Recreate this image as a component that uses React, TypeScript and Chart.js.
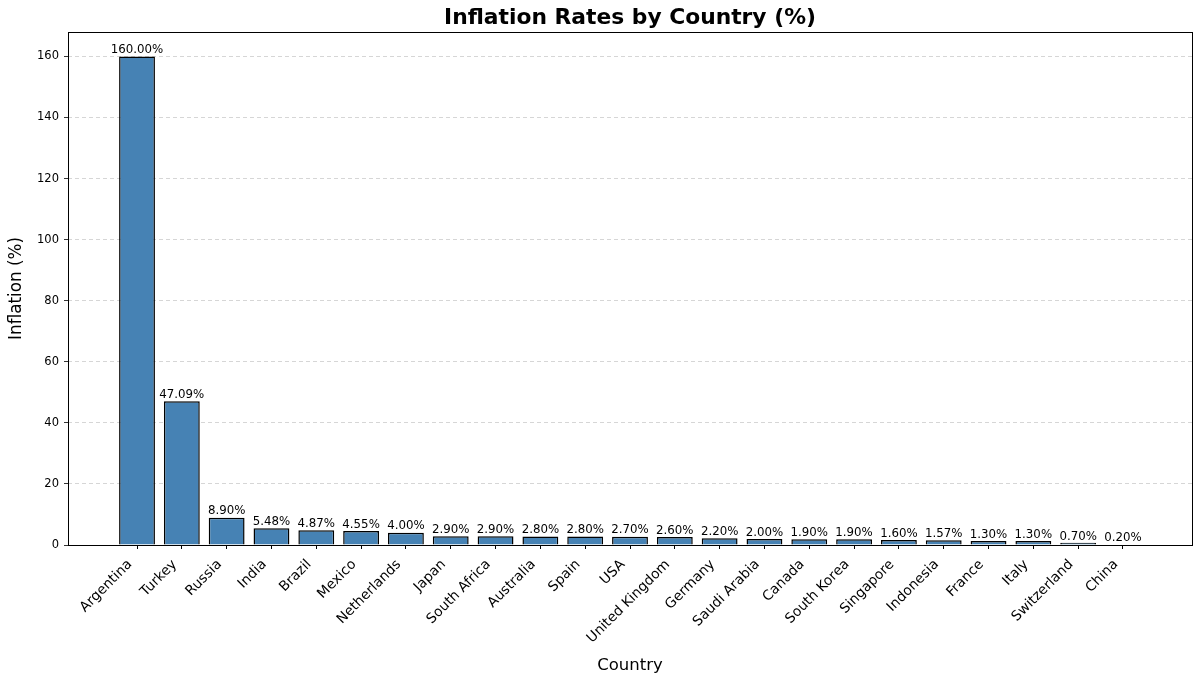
import React, { useEffect, useRef } from "react";
import { Chart, registerables } from "chart.js";

Chart.register(...registerables);

const countries = [
  "Argentina", "Turkey", "Russia", "India", "Brazil", "Mexico", "Netherlands",
  "Japan", "South Africa", "Australia", "Spain", "USA", "United Kingdom",
  "Germany", "Saudi Arabia", "Canada", "South Korea", "Singapore", "Indonesia",
  "France", "Italy", "Switzerland", "China",
];
const inflation = [
  160.0, 47.09, 8.9, 5.48, 4.87, 4.55, 4.0, 2.9, 2.9, 2.8, 2.8, 2.7, 2.6,
  2.2, 2.0, 1.9, 1.9, 1.6, 1.57, 1.3, 1.3, 0.7, 0.2,
];
const yTicks = [0, 20, 40, 60, 80, 100, 120, 140, 160];

const FONT = "'DejaVu Sans', sans-serif";

export default function App() {
  const ref = useRef<HTMLCanvasElement>(null);

  useEffect(() => {
    document.body.style.margin = "0";
    if (!ref.current) return;

    const valueLabels = {
      id: "valueLabels",
      afterDatasetsDraw(chart: any) {
        const ctx = chart.ctx;
        const meta = chart.getDatasetMeta(0);
        ctx.save();
        ctx.font = `11.8px ${FONT}`;
        ctx.fillStyle = "#000";
        ctx.textAlign = "center";
        ctx.textBaseline = "bottom";
        meta.data.forEach((bar: any, i: number) => {
          ctx.fillText(inflation[i].toFixed(2) + "%", bar.x, bar.y - 0.5);
        });
        ctx.restore();
      },
    };

    const frame = {
      id: "frame",
      afterDraw(chart: any) {
        const { ctx, chartArea } = chart;
        ctx.save();
        ctx.strokeStyle = "#000";
        ctx.lineWidth = 1;
        ctx.strokeRect(
          Math.round(chartArea.left) + 0.5,
          Math.round(chartArea.top) + 0.5,
          Math.round(chartArea.right - chartArea.left),
          Math.round(chartArea.bottom - chartArea.top)
        );
        ctx.restore();
      },
    };

    const chart = new Chart(ref.current, {
      type: "bar",
      data: {
        datasets: [
          {
            data: inflation.map((v, i) => ({ x: i, y: v })),
            backgroundColor: "#4682B4",
            borderColor: "#000",
            borderWidth: 1.5,
            borderSkipped: "start",
            barPercentage: 0.8,
            categoryPercentage: 1,
          },
        ],
      },
      options: {
        animation: false,
        responsive: true,
        maintainAspectRatio: false,
        layout: { padding: { left: 0, right: 8, top: 0, bottom: 0 } },
        plugins: {
          legend: { display: false },
          tooltip: { enabled: false },
          title: {
            display: true,
            text: "Inflation Rates by Country (%)",
            fullSize: false,
            color: "#000",
            font: { family: FONT, size: 21.8, weight: "bold" },
            padding: { top: 5.5, bottom: 0.3 },
          },
        },
        scales: {
          x: {
            type: "linear",
            offset: false,
            min: -1.54,
            max: 23.54,
            afterBuildTicks: (scale: any) => {
              scale.ticks = countries.map((_, i) => ({ value: i }));
            },
            afterFit: (scale: any) => {
              scale.height = 138;
            },
            ticks: {
              autoSkip: false,
              minRotation: 45,
              maxRotation: 45,
              padding: 7.5,
              labelOffset: -7,
              color: "#000",
              font: { family: FONT, size: 13.8 },
              callback: (v: any) => countries[Math.round(Number(v))] ?? "",
            },
            grid: {
              display: true,
              offset: false,
              drawOnChartArea: false,
              drawTicks: true,
              tickLength: 4,
              color: "#000",
            },
            border: { display: false },
            title: {
              display: true,
              text: "Country",
              color: "#000",
              font: { family: FONT, size: 16.5 },
              padding: { top: 8, bottom: 7 },
            },
          },
          y: {
            min: 0,
            max: 168,
            afterBuildTicks: (scale: any) => {
              scale.ticks = yTicks.map((v) => ({ value: v }));
            },
            afterFit: (scale: any) => {
              scale.width = 68;
            },
            ticks: {
              padding: 5,
              color: "#000",
              font: { family: FONT, size: 11.5 },
            },
            grid: {
              display: true,
              color: "#cccccc",
              tickColor: "#000",
              tickLength: 4,
              tickBorderDash: [],
              lineWidth: 0.8,
            },
            border: { display: false, dash: [4, 3] },
            title: {
              display: true,
              text: "Inflation (%)",
              color: "#000",
              font: { family: FONT, size: 16.8 },
              padding: { top: 6.5, bottom: 4 },
            },
          },
        },
      },
      plugins: [valueLabels, frame],
    } as any);

    return () => chart.destroy();
  }, []);

  return (
    <div style={{ width: 1200, height: 683, position: "relative" }}>
      <canvas ref={ref} />
    </div>
  );
}
